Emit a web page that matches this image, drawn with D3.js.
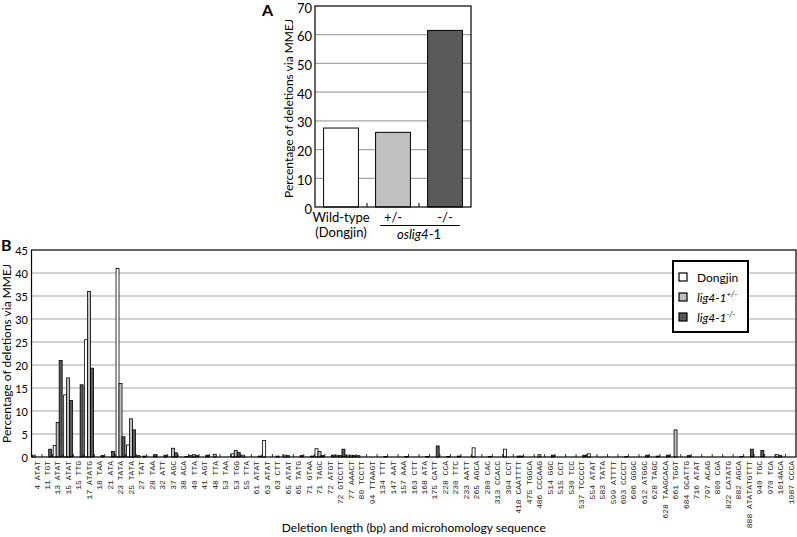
<!DOCTYPE html>
<html>
<head>
<meta charset="utf-8">
<script src="https://cdn.jsdelivr.net/npm/d3@7"></script>
<style>
  body { margin: 0; background: #fff; }
  svg { display: block; font-family: Lato, "Open Sans", sans-serif; }
</style>
</head>
<body>
<script>
"use strict";

// panel A
const genotypesA = ["wt", "het", "hom"];
const valuesA = [27.5, 26, 61.5];
const ticksA = [0, 10, 20, 30, 40, 50, 60, 70];

// panel B
const deletions = [
  "4 ATAT", "11 TGT", "13 ATAT", "15 ATAT", "15 TTG", "17 ATATG", "18 TAA", "21 ATA",
  "23 TATA", "25 TATA", "27 TAT", "28 TAA", "32 ATT", "37 AGC", "38 ACA", "40 TTA",
  "41 AGT", "48 TTA", "53 TAA", "53 TGG", "55 TTA", "61 ATAT", "63 ATAT", "63 CTT",
  "65 ATAT", "65 TATG", "71 GTAA", "71 TAGC", "72 ATGT", "72 GTCCTT", "77 AAACT", "80 TCCTT",
  "94 TTAAGT", "134 TTT", "147 AAT", "157 AAA", "163 CTT", "168 ATA", "175 CATT", "228 CCA",
  "230 TTC", "233 AATT", "265 AGCA", "280 CAC", "313 CCACC", "394 CCT", "418 CAATTTT", "475 TGGCA",
  "486 CCCAAG", "514 GGC", "515 CCT", "530 TCC", "537 TCCCCT", "554 ATAT", "583 TATA", "599 ATTTT",
  "603 CCCCT", "606 GGGC", "612 ATGGC", "628 TAGC", "628 TAAGCACA", "661 TGGT", "684 GCATTG", "716 ATAT",
  "797 ACAG", "800 CGA", "822 CATATG", "882 AGCA", "888 ATATATGTTT", "940 TGC", "970 TCA", "1014ACA",
  "1087 CCCA"
];
const dongjin = [
  0.4, 0, 2.5, 13.5, 0, 25.5, 0, 0,
  41, 2.6, 0.3, 0, 0, 0, 0, 0.3,
  0, 0, 0, 0.7, 0.4, 0, 3.6, 0,
  0.4, 0, 0, 1.8, 0, 0.4, 0.4, 0.3,
  0, 0, 0, 0, 0, 0, 0, 0,
  0, 0, 2.0, 0, 0, 1.7, 0, 0,
  0, 0, 0, 0, 0, 0.7, 0, 0,
  0, 0, 0, 0, 0, 0, 0, 0,
  0, 0, 0, 0, 0, 0, 0, 0.5,
  0
];
const het = [
  0, 0, 7.5, 17.2, 0, 36, 0, 0,
  16, 8.3, 0, 0, 0, 1.9, 0, 0.5,
  0, 0.6, 0, 1.4, 0, 0, 0, 0.2,
  0.3, 0, 0, 1.2, 0, 0.3, 0.4, 0,
  0, 0, 0, 0, 0, 0, 0, 0,
  0, 0, 0, 0, 0, 0, 0.2, 0,
  0.5, 0, 0, 0, 0, 0, 0, 0,
  0, 0, 0, 0, 0, 5.9, 0, 0,
  0, 0, 0, 0, 0, 0, 0, 0.3,
  0
];
const hom = [
  0, 1.7, 21, 12.3, 15.7, 19.3, 0.3, 1.2,
  4.4, 5.9, 0.2, 0.5, 0.4, 0.9, 0.1, 0.3,
  0.4, 0, 0, 1.0, 0, 0.2, 0, 0,
  0, 0.3, 0.2, 0.3, 0.4, 1.7, 0.3, 0,
  0, 0.1, 0, 0.1, 0, 0.1, 2.4, 0.1,
  0.2, 0, 0, 0.1, 0, 0, 0.2, 0,
  0, 0.4, 0, 0, 0.4, 0, 0, 0,
  0.1, 0, 0.4, 0.2, 0.4, 0, 0.3, 0,
  0, 0, 0, 0.1, 1.7, 1.4, 0, 0,
  0
];
const ticksB = [0, 5, 10, 15, 20, 25, 30, 35, 40, 45];

const seriesKeys = ["dongjin", "het", "hom"];
const fills = { dongjin: "#ffffff", het: "#c0c0c0", hom: "#595959" };
const fillA = ["#ffffff", "#c0c0c0", "#595959"];

const svg = d3.select("body").append("svg")
  .attr("width", 797)
  .attr("height", 537);

// ---------- panel A ----------
const boxA = { left: 315, right: 471, top: 6, bottom: 207 };

const xA = d3.scaleBand()
  .domain(genotypesA)
  .range([boxA.left, boxA.right])
  .paddingInner(0.33)
  .paddingOuter(0.165);

const yA = d3.scaleLinear()
  .domain([0, 70])
  .range([boxA.bottom, boxA.top]);

const gA = svg.append("g");

gA.selectAll(".gridA")
  .data(ticksA.filter(t => t > 0 && t < 70))
  .enter().append("line")
    .attr("x1", boxA.left).attr("x2", boxA.right)
    .attr("y1", d => yA(d)).attr("y2", d => yA(d))
    .attr("stroke", "#a6a6a6")
    .attr("stroke-width", 1.2);

gA.selectAll(".barA")
  .data(valuesA)
  .enter().append("rect")
    .attr("x", (d, i) => xA(genotypesA[i]))
    .attr("y", d => yA(d))
    .attr("width", xA.bandwidth())
    .attr("height", d => yA(0) - yA(d))
    .attr("fill", (d, i) => fillA[i])
    .attr("stroke", "#000")
    .attr("stroke-width", 1);

gA.append("rect")
  .attr("x", boxA.left).attr("y", boxA.top)
  .attr("width", boxA.right - boxA.left)
  .attr("height", boxA.bottom - boxA.top)
  .attr("fill", "none")
  .attr("stroke", "#000")
  .attr("stroke-width", 1.2);

// little inside ticks between categories
const stepA = (boxA.right - boxA.left) / 3;
gA.selectAll(".tickA")
  .data([1, 2])
  .enter().append("line")
    .attr("x1", d => boxA.left + d * stepA).attr("x2", d => boxA.left + d * stepA)
    .attr("y1", boxA.bottom).attr("y2", boxA.bottom - 4)
    .attr("stroke", "#000");

gA.selectAll(".tickLabelA")
  .data(ticksA)
  .enter().append("text")
    .attr("x", 312)
    .attr("y", d => yA(d) + 6.5)
    .attr("text-anchor", "end")
    .attr("font-size", 13)
    .text(d => d);

gA.append("text")
  .attr("transform", "translate(293," + ((boxA.top + boxA.bottom) / 2 + 2) + ") rotate(-90)")
  .attr("text-anchor", "middle")
  .attr("font-size", 12)
  .text("Percentage of deletions via MMEJ");

gA.append("text")
  .attr("x", 262).attr("y", 16)
  .attr("font-size", 16)
  .attr("font-weight", "bold")
  .text("A");

const cx = g => xA(g) + xA.bandwidth() / 2;
gA.append("text").attr("x", cx("wt")).attr("y", 222)
  .attr("text-anchor", "middle").attr("font-size", 13).text("Wild-type");
gA.append("text").attr("x", cx("wt")).attr("y", 237)
  .attr("text-anchor", "middle").attr("font-size", 13).text("(Dongjin)");
gA.append("text").attr("x", cx("het")).attr("y", 222)
  .attr("text-anchor", "middle").attr("font-size", 13).text("+/-");
gA.append("text").attr("x", cx("hom")).attr("y", 222)
  .attr("text-anchor", "middle").attr("font-size", 13).text("-/-");
gA.append("line")
  .attr("x1", 380).attr("x2", 460)
  .attr("y1", 225.5).attr("y2", 225.5)
  .attr("stroke", "#000");
const osl = gA.append("text")
  .attr("x", (cx("het") + cx("hom")) / 2).attr("y", 239)
  .attr("text-anchor", "middle").attr("font-size", 13);
osl.append("tspan").attr("font-style", "italic").text("oslig4");
osl.append("tspan").text("-1");

// ---------- panel B ----------
const boxB = { left: 31.5, right: 796, top: 250, bottom: 457 };

const xB = d3.scaleBand()
  .domain(deletions)
  .range([boxB.left, boxB.right]);

const xSub = d3.scaleBand()
  .domain(seriesKeys)
  .range([0.75, xB.bandwidth() - 0.75]);

const yB = d3.scaleLinear()
  .domain([0, 45])
  .range([boxB.bottom, boxB.top]);

const gB = svg.append("g");

gB.selectAll(".gridB")
  .data(ticksB.filter(t => t > 0 && t < 45))
  .enter().append("line")
    .attr("x1", boxB.left).attr("x2", boxB.right)
    .attr("y1", d => yB(d)).attr("y2", d => yB(d))
    .attr("stroke", "#a6a6a6")
    .attr("stroke-width", 1.2);

const rows = deletions.map((name, i) => ({
  name: name, dongjin: dongjin[i], het: het[i], hom: hom[i]
}));

const groups = gB.selectAll(".grp")
  .data(rows)
  .enter().append("g")
    .attr("transform", d => "translate(" + xB(d.name) + ",0)");

groups.selectAll("rect")
  .data(d => seriesKeys.map(k => ({ key: k, value: d[k] })).filter(v => v.value > 0))
  .enter().append("rect")
    .attr("x", d => xSub(d.key))
    .attr("y", d => yB(d.value))
    .attr("width", xSub.bandwidth())
    .attr("height", d => yB(0) - yB(d.value))
    .attr("fill", d => fills[d.key])
    .attr("stroke", "#000")
    .attr("stroke-width", 0.8);

// inside ticks at category boundaries
gB.selectAll(".tickB")
  .data(deletions.slice(1))
  .enter().append("line")
    .attr("x1", d => xB(d)).attr("x2", d => xB(d))
    .attr("y1", boxB.bottom).attr("y2", boxB.bottom - 3)
    .attr("stroke", "#000")
    .attr("stroke-width", 0.8);

gB.append("rect")
  .attr("x", boxB.left).attr("y", boxB.top)
  .attr("width", boxB.right - boxB.left)
  .attr("height", boxB.bottom - boxB.top)
  .attr("fill", "none")
  .attr("stroke", "#000")
  .attr("stroke-width", 1.2);

gB.selectAll(".tickLabelB")
  .data(ticksB)
  .enter().append("text")
    .attr("x", 28)
    .attr("y", d => yB(d) + 4.5)
    .attr("text-anchor", "end")
    .attr("font-size", 11)
    .text(d => d);

gB.selectAll(".catLabel")
  .data(deletions)
  .enter().append("text")
    .attr("transform", d => "translate(" + (xB(d) + xB.bandwidth() / 2 + 2.8) + "," + (boxB.bottom + 4) + ") rotate(-90)")
    .attr("text-anchor", "end")
    .attr("font-family", "'Courier New', 'Liberation Mono', monospace")
    .attr("font-size", 8)
    .attr("fill", "#222")
    .text(d => d);

gB.append("text")
  .attr("transform", "translate(11," + ((boxB.top + boxB.bottom) / 2) + ") rotate(-90)")
  .attr("text-anchor", "middle")
  .attr("font-size", 12)
  .text("Percentage of deletions via MMEJ");

gB.append("text")
  .attr("x", (boxB.left + boxB.right) / 2).attr("y", 532)
  .attr("text-anchor", "middle")
  .attr("font-size", 12)
  .text("Deletion length (bp) and microhomology sequence");

gB.append("text")
  .attr("x", 1).attr("y", 251)
  .attr("font-size", 16)
  .attr("font-weight", "bold")
  .text("B");

// legend
const legend = gB.append("g");
legend.append("rect")
  .attr("x", 673).attr("y", 261)
  .attr("width", 75).attr("height", 71)
  .attr("fill", "#fff")
  .attr("stroke", "#000")
  .attr("stroke-width", 2);

const legendItems = legend.selectAll(".item")
  .data(seriesKeys)
  .enter().append("g")
    .attr("transform", (d, i) => "translate(679," + (277 + i * 20) + ")");

legendItems.append("rect")
  .attr("x", 0).attr("y", -4)
  .attr("width", 8).attr("height", 8)
  .attr("fill", d => fills[d])
  .attr("stroke", "#000")
  .attr("stroke-width", 1.2);

legendItems.each(function(d) {
  const t = d3.select(this).append("text")
    .attr("x", 18).attr("y", 4.5)
    .attr("font-size", 12);
  if (d === "dongjin") {
    t.text("Dongjin");
  } else {
    t.append("tspan").attr("font-style", "italic").text("lig4-1");
    t.append("tspan")
      .attr("font-style", "italic")
      .attr("font-size", 8)
      .attr("dy", -5)
      .text(d === "het" ? "+/-" : "-/-");
  }
});
</script>
</body>
</html>
